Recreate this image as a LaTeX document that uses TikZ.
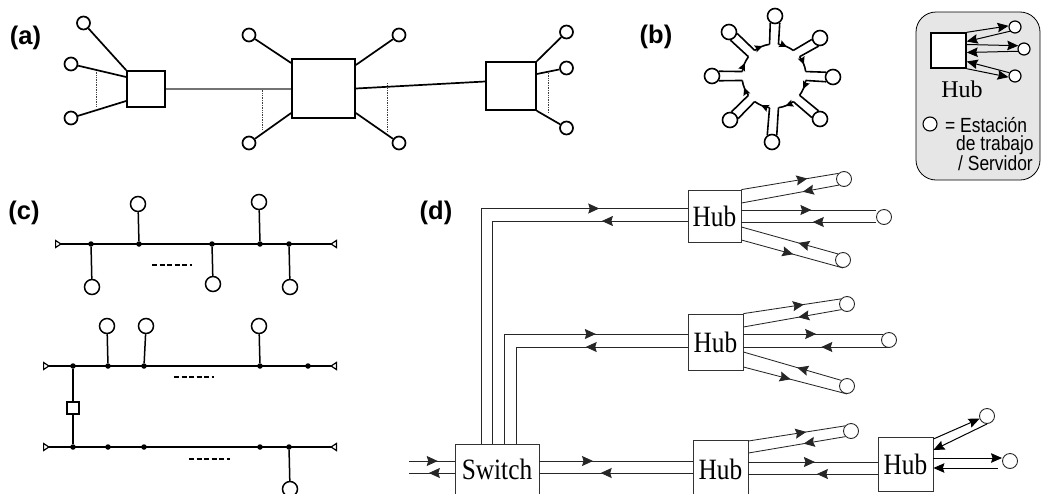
\documentclass[tikz,border=0pt]{standalone}
\usepackage{fontspec}
\setmainfont{Liberation Serif}
\newfontfamily\sansFont{Liberation Sans}
\newfontfamily\hubFont[FakeStretch=0.86]{Liberation Serif}
\newfontfamily\legendFont[FakeStretch=0.85]{Liberation Sans}
\usetikzlibrary{arrows.meta,decorations.markings}

\begin{document}
\begin{tikzpicture}[x=1pt, y=-1pt,
    station/.style={circle, draw, fill=white, inner sep=0pt, minimum size=#1},
    station/.default=15pt,
    plainBox/.style={draw, fill=white, line width=1.7pt, inner sep=0pt},
    hubBox/.style={draw=black!80, fill=white, line width=0.8pt, inner sep=0pt, font=\hubFont\fontsize{29.5}{30}\selectfont},
    panelLabel/.style={font=\sansFont\bfseries\fontsize{25.5}{26}\selectfont, inner sep=0pt},
    legendText/.style={font=\legendFont\fontsize{20.5}{18}\selectfont, align=left, anchor=north west, inner sep=0pt},
    thickLine/.style={line width=1.7pt},
    guide/.style={densely dotted, line width=0.7pt, black!75},
    tap/.style={circle, fill=black, inner sep=0pt, minimum size=5.5pt},
    bus/.style={line width=1.5pt, {Triangle[open,reversed,length=7pt,width=9pt,line width=1.2pt]}-{Triangle[open,reversed,length=7pt,width=9pt,line width=1.2pt]}},
    dropLine/.style={line width=1.5pt},
    gapMark/.style={dash pattern=on 5pt off 2.5pt, line width=1.4pt},
    link/.style={black!85, line width=0.85pt, postaction={decorate},
        decoration={markings, mark=at position #1 with {\arrow{Stealth[length=11pt,width=10pt,inset=1.5pt]}}}},
    endLink/.style={line width=1pt, -{Stealth[length=11pt,width=9.5pt,inset=1.5pt]}},
    ringArc/.style={line width=1.6pt, postaction={decorate},
        decoration={markings, mark=at position 0.55 with {\arrow{Stealth[length=7.5pt,width=7pt,inset=1pt]}}}}]

    \definecolor{legendFill}{HTML}{E6E6E6}

    % Fix page size
    \path[use as bounding box, clip] (0,0) rectangle (1041,493);

    % Panel labels
    \node[panelLabel] (labelA) at (25.5,38) {(a)};
    \node[panelLabel] (labelB) at (656,37) {(b)};
    \node[panelLabel] (labelC) at (24,213) {(c)};
    \node[panelLabel] (labelD) at (436,213) {(d)};

    % Draw (a) boxes
    \node[plainBox, minimum width=38pt, minimum height=36pt] (boxA) at (146,89) {};
    \node[plainBox, minimum width=63pt, minimum height=59pt] (boxB) at (323.5,88.5) {};
    \node[plainBox, minimum width=50pt, minimum height=48pt] (boxC) at (511,86) {};

    % Draw (a) dotted guides
    \draw[guide] (96,70) coordinate (guideAt) -- (96,107) coordinate (guideAb);
    \draw[guide] (262,88) coordinate (guideBt) -- (262,130) coordinate (guideBb);
    \draw[guide] (387,83) coordinate (guideCt) -- (387,132) coordinate (guideCb);
    \draw[guide] (548,73) coordinate (guideDt) -- (548,113) coordinate (guideDb);

    % Draw (a) stations
    \foreach \name/\x/\y in {Aa/83.5/23, Ab/71/64, Ac/71/118, Ba/249/35, Bb/399/35, Bc/249/143, Bd/399/143, Ca/566.5/32, Cb/566.5/68, Cc/566.5/128}
        \node[station=13pt, line width=1.7pt] (st\name) at (\x,\y) {};

    % Draw (a) connections
    \draw[thickLine] (stAa) -- (boxA.north west);
    \draw[thickLine] (stAb) -- ([yshift=12pt]boxA.west);
    \draw[thickLine] (stAc) -- ([yshift=-12pt]boxA.west);
    \draw[thickLine] (stBa) -- ([yshift=25.5pt]boxB.west);
    \draw[thickLine] (stBb) -- ([yshift=23.5pt]boxB.east);
    \draw[thickLine] (stBc) -- ([yshift=-24.5pt]boxB.west);
    \draw[thickLine] (stBd) -- ([yshift=-24.5pt]boxB.east);
    \draw[thickLine] (stCa) -- (boxC.north east);
    \draw[thickLine] (stCb) -- ([yshift=12pt]boxC.east);
    \draw[thickLine] (stCc) -- (boxC.south east);
    \draw[black!55, line width=1.2pt] (boxA.east) -- (boxB.west |- boxA.east);
    \draw[thickLine] (boxB.east) -- ([yshift=4.5pt]boxC.west);

    % Draw (b) ring
    \coordinate (ringCentre) at (774,76);
    \foreach \a/\sx/\sy in {0/833/77, 45/820/38, 90/775/16, 135/729/32, 180/712/76, 225/730/120, 270/772/142, 315/820/119} {
        \pgfmathsetmacro\upper{\a+145}
        \pgfmathsetmacro\lower{\a+215}
        \node[station=15pt, line width=1.6pt] (ringSt\a) at (\sx,\sy) {};
        \draw[line width=1.6pt] (ringCentre) ++(-\a-8:32) -- (ringSt\a.\upper);
        \draw[line width=1.6pt] (ringCentre) ++(-\a+8:32) -- (ringSt\a.\lower);
        \draw[ringArc] (ringCentre) ++(-\a+8:32) arc[start angle=-\a+8, end angle=-\a+37, radius=32];
    }

    % Draw legend
    \node[draw, fill=legendFill, rounded corners=20pt, line width=0.8pt, minimum width=124pt, minimum height=168pt] (legend) at (978,96) {};
    \node[draw, fill=white, line width=1.4pt, minimum width=35pt, minimum height=35pt, inner sep=0pt] (legendHub) at (948.5,50.5) {};
    \node[station=12pt, line width=1.2pt] (legendA) at (1015,27) {};
    \node[station=12pt, line width=1.2pt] (legendB) at (1024,49) {};
    \node[station=12pt, line width=1.2pt] (legendC) at (1015,76) {};
    \draw[endLink] (legendHub.north east) -- (legendA.170);
    \draw[endLink] (legendA.220) -- ([yshift=9pt]legendHub.east);
    \draw[endLink] ([yshift=6pt]legendHub.east) -- (legendB.150);
    \draw[endLink] (legendB.200) -- ([yshift=-2pt]legendHub.east);
    \draw[endLink] (legendC.150) -- ([yshift=-11pt]legendHub.east);
    \draw[endLink] (legendHub.south east) -- (legendC.190);
    \node[font=\fontsize{24}{24}\selectfont, inner sep=0pt] (legendLabel) at (962,89) {Hub};
    \node[station=14pt, line width=1.1pt] (legendKey) at (930,124) {};
    \node[legendText] (legendLines) at (945,117) {= Estación\\\hspace*{11pt}de trabajo\\\hspace*{13pt}/ Servidor};

    % Draw (c) first bus
    \draw[bus] (55,244) coordinate (busAl) -- (337,244) coordinate (busAr);
    \foreach \x/\sx/\sy in {91/92/287, 139/138/204, 212/213/284, 260/259/202, 289/290/287} {
        \node[tap] (busA\x) at (\x,244) {};
        \node[station, line width=1.5pt] (busASt\x) at (\sx,\sy) {};
        \draw[dropLine] (busA\x) -- (busASt\x);
    }
    \draw[gapMark] (152,265) coordinate (gapAl) -- (192,265) coordinate (gapAr);

    % Draw (c) second bus
    \draw[bus] (43,366) coordinate (busBl) -- (337,366) coordinate (busBr);
    \foreach \x in {73,108,144,260,308}
        \node[tap] (busB\x) at (\x,366) {};
    \foreach \x/\sx/\sy in {108/107/326, 144/146/326, 260/259/326} {
        \node[station, line width=1.5pt] (busBSt\x) at (\sx,\sy) {};
        \draw[dropLine] (busB\x) -- (busBSt\x);
    }
    \draw[gapMark] (174,377) coordinate (gapBl) -- (214,377) coordinate (gapBr);

    % Draw (c) third bus
    \draw[bus] (43,447) coordinate (busCl) -- (337,447) coordinate (busCr);
    \foreach \x in {73,108,144,260,289}
        \node[tap] (busC\x) at (\x,447) {};
    \node[station, line width=1.5pt] (busCSt) at (290,489) {};
    \draw[dropLine] (busC289) -- (busCSt);
    \draw[gapMark] (189,459) coordinate (gapCl) -- (230,459) coordinate (gapCr);

    % Draw (c) repeater
    \node[draw, fill=white, line width=1.3pt, minimum size=12pt, inner sep=0pt] (repeater) at (73,408) {};
    \draw[dropLine] (busB73) -- (repeater);
    \draw[dropLine] (repeater) -- (busC73);

    % Draw (d) switch and hubs
    \node[hubBox, minimum width=84pt, minimum height=56pt] (switch) at (497,472) {\raisebox{5pt}{Switch}};
    \node[hubBox, minimum width=53pt, minimum height=52pt] (hubA) at (714.5,216) {Hub};
    \node[hubBox, minimum width=55pt, minimum height=56pt] (hubB) at (715.5,342) {Hub};
    \node[hubBox, minimum width=55pt, minimum height=60pt] (hubC) at (720.5,470) {\raisebox{2pt}{Hub}};
    \node[hubBox, minimum width=55pt, minimum height=54pt] (hubD) at (905.5,464) {Hub};

    % Draw (d) stations
    \foreach \name/\x/\y in {Ax/844/179, Ay/884/217, Az/843/260, Bx/847/304, By/889/340, Bz/847/386, Cx/851/431, Dx/987/416, Dy/1010/461}
        \node[station, line width=0.9pt, draw=black!85] (end\name) at (\x,\y) {};

    % Draw (d) switch links
    \draw[link=0.63] (409,461) coordinate (inTop) -- ([yshift=11pt]switch.west);
    \draw[link=0.565] ([yshift=-1pt]switch.west) -- (409,473) coordinate (inLow);
    \draw[link=0.80] ([xshift=-16pt]switch.north) |- ([yshift=7.5pt]hubA.west);
    \draw[link=0.205] ([yshift=-5pt]hubA.west) -| ([xshift=-5pt]switch.north);
    \draw[link=0.687] ([xshift=7pt]switch.north) |- ([yshift=8pt]hubB.west);
    \draw[link=0.38] ([yshift=-5pt]hubB.west) -| ([xshift=19pt]switch.north);
    \draw[link=0.35] ([yshift=11pt]switch.east) -- ([yshift=9pt]hubC.west);
    \draw[link=0.60] ([yshift=-3pt]hubC.west) -- ([yshift=-1pt]switch.east);
    \draw[link=0.515] ([yshift=8pt]hubC.east) -- ([yshift=2pt]hubD.west);
    \draw[link=0.47] ([yshift=-10pt]hubD.west) -- ([yshift=-4pt]hubC.east);

    % Draw (d) first hub links
    \draw[link=0.68] (hubA.north east) -- (endAx.135);
    \draw[link=0.37] (endAx.230) -- ([yshift=13pt]hubA.east);
    \draw[link=0.52] ([yshift=6pt]hubA.east) -- (endAy.west |- 0,210);
    \draw[link=0.47] (endAy.west |- 0,222) -- ([yshift=-6pt]hubA.east);
    \draw[link=0.41] (endAz.130) -- ([yshift=-11pt]hubA.east);
    \draw[link=0.51] ([yshift=-24pt]hubA.east) -- (endAz.south);

    % Draw (d) second hub links
    \draw[link=0.62] (hubB.north east) -- (endBx.140);
    \draw[link=0.44] (endBx.225) -- ([yshift=15pt]hubB.east);
    \draw[link=0.52] ([yshift=8pt]hubB.east) -- (endBy.north west |- 0,334);
    \draw[link=0.465] (endBy.south |- 0,347) -- ([yshift=-5pt]hubB.east);
    \draw[link=0.45] (endBz.135) -- ([yshift=-10pt]hubB.east);
    \draw[link=0.456] ([yshift=-25pt]hubB.east) -- (endBz.south);

    % Draw (d) third and fourth hub links
    \draw[link=0.60] ([yshift=29pt]hubC.east) -- (endCx.140);
    \draw[link=0.43] (endCx.225) -- ([yshift=17pt]hubC.east);
    \draw[endLink] ([yshift=25pt]hubD.east) -- (endDx.200);
    \draw[endLink] (endDx.270) -- ([yshift=14pt]hubD.east);
    \draw[endLink] ([yshift=6pt]hubD.east) -- (endDy.west |- 0,458);
    \draw[endLink] (998,468) coordinate (endDyLow) -- ([yshift=-4pt]hubD.east);

\end{tikzpicture}
\end{document}
